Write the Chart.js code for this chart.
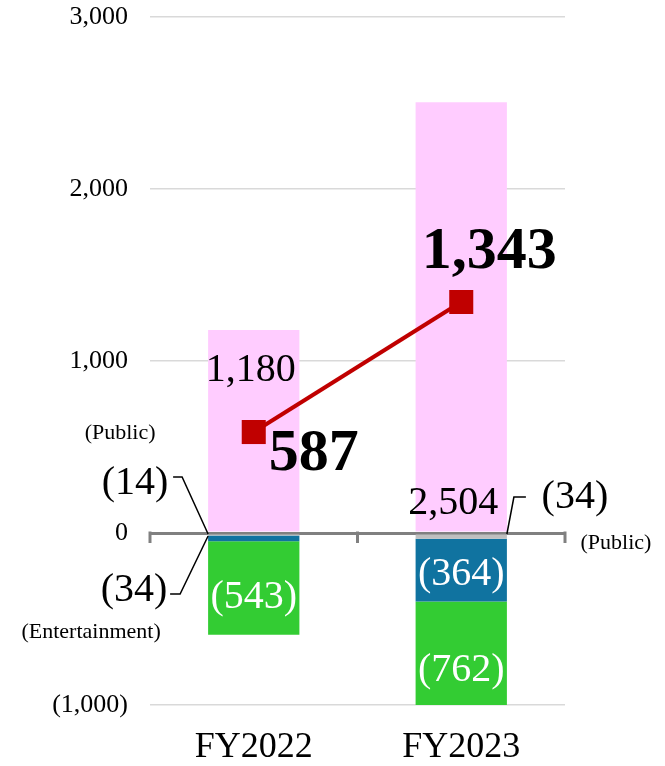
<!DOCTYPE html>
<html>
<head>
<meta charset="utf-8">
<script src="https://cdn.jsdelivr.net/npm/chart.js@4"></script>
<style>
  html, body { margin: 0; padding: 0; background: #fff; }
  #wrap { width: 665px; height: 766px; }
</style>
</head>
<body>
<div id="wrap"><canvas id="chart"></canvas></div>
<script>
// data
const categories = ['FY2022', 'FY2023'];
const positiveValues = [1180, 2504];
const publicValues = [-14, -34];
const entertainmentValues = [-34, -364];
const otherValues = [-543, -762];
const lineValues = [587, 1343];
const yMin = -1000;
const yMax = 3000;
const yStep = 1000;

const serif = "'Liberation Serif', 'Times New Roman', serif";

function fmt(v) {
    const s = Math.abs(v).toLocaleString('en-US');
    return v < 0 ? '(' + s + ')' : s;
}

function text(ctx, str, x, y, size, color, bold) {
    ctx.font = (bold ? 'bold ' : '') + size + 'px ' + serif;
    ctx.fillStyle = color;
    ctx.textAlign = 'center';
    ctx.textBaseline = 'middle';
    ctx.fillText(str, x, y);
}

function poly(ctx, pts) {
    ctx.beginPath();
    ctx.moveTo(pts[0][0], pts[0][1]);
    for (let i = 1; i < pts.length; i++) ctx.lineTo(pts[i][0], pts[i][1]);
    ctx.stroke();
}

// zero axis tick marks + labels
const labelPlugin = {
    id: 'labels',
    beforeDatasetsDraw(chart) {
        const {ctx, scales: {x, y}} = chart;
        const y0 = y.getPixelForValue(0);
        const edges = [x.left, (x.getPixelForValue(0) + x.getPixelForValue(1)) / 2, x.right];
        ctx.save();
        ctx.strokeStyle = '#808080';
        ctx.lineWidth = 3;
        edges.forEach(px => poly(ctx, [[px, y0 - 1.5], [px, y0 + 10]]));
        ctx.restore();
    },
    afterDatasetsDraw(chart) {
        const {ctx, scales: {x, y}} = chart;
        const y0 = y.getPixelForValue(0);
        const el = (d, i) => chart.getDatasetMeta(d).data[i];
        const mid = (d, i) => {
            const e = el(d, i);
            return (e.base + Math.min(e.y, y.bottom)) / 2;
        };
        ctx.save();

        // pink bar labels
        text(ctx, fmt(positiveValues[0]), el(0, 0).x - 3, el(0, 0).y + 40, 40, '#000');
        text(ctx, fmt(positiveValues[1]), el(0, 1).x - 8, y0 - 30, 40, '#000');

        // white labels in bars
        text(ctx, fmt(otherValues[0]), el(3, 0).x, mid(3, 0) + 10, 40, '#fff');
        text(ctx, fmt(entertainmentValues[1]), el(2, 1).x, mid(2, 1) + 4, 40, '#fff');
        text(ctx, fmt(otherValues[1]), el(3, 1).x, mid(3, 1) + 17, 40, '#fff');

        // line labels
        const p0 = chart.getDatasetMeta(4).data[0];
        const p1 = chart.getDatasetMeta(4).data[1];
        text(ctx, fmt(lineValues[0]), p0.x + 60, p0.y + 22, 60, '#000', true);
        text(ctx, fmt(lineValues[1]), p1.x + 28, p1.y - 50, 60, '#000', true);

        // leaders FY2022
        const b0 = el(1, 0);
        const left0 = b0.x - b0.width / 2;
        ctx.strokeStyle = '#000';
        ctx.lineWidth = 1.5;
        text(ctx, '(Public)', left0 - 88, y0 - 100, 22, '#000');
        text(ctx, fmt(publicValues[0]), left0 - 73, y0 - 50, 40, '#000');
        poly(ctx, [[left0 - 35, y0 - 56], [left0 - 26, y0 - 56], [left0, y0 + 1]]);
        text(ctx, fmt(entertainmentValues[0]), left0 - 74, y0 + 57, 40, '#000');
        poly(ctx, [[left0 - 38, y0 + 61], [left0 - 28, y0 + 61], [left0, y0 + 3]]);
        text(ctx, '(Entertainment)', left0 - 117, y0 + 99, 22, '#000');

        // leaders FY2023
        const b1 = el(1, 1);
        const right1 = b1.x + b1.width / 2;
        poly(ctx, [[right1, y0 + 1], [right1 + 7, y0 - 36], [right1 + 19, y0 - 36]]);
        text(ctx, fmt(publicValues[1]), right1 + 68, y0 - 36, 40, '#000');
        text(ctx, '(Public)', right1 + 109, y0 + 10, 22, '#000');

        ctx.restore();
    }
};

new Chart(document.getElementById('chart'), {
    type: 'bar',
    data: {
        labels: categories,
        datasets: [
            { label: 'Total', data: positiveValues, backgroundColor: '#ffccff', stack: 'bars', order: 1 },
            { label: 'Public', data: publicValues, backgroundColor: '#bfbfbf', stack: 'bars', order: 1 },
            { label: 'Entertainment', data: entertainmentValues, backgroundColor: '#1073a0', stack: 'bars', order: 1 },
            { label: 'Other', data: otherValues, backgroundColor: '#33cc33', stack: 'bars', order: 1 },
            {
                type: 'line',
                label: 'Profit',
                data: lineValues,
                stack: 'line',
                order: 0,
                borderColor: '#c00000',
                borderWidth: 4,
                backgroundColor: '#c00000',
                pointStyle: 'rect',
                pointRadius: 17,
                pointBorderWidth: 0,
                pointBackgroundColor: '#c00000'
            }
        ]
    },
    options: {
        responsive: true,
        maintainAspectRatio: false,
        animation: false,
        datasets: {
            bar: { barPercentage: 0.44, categoryPercentage: 1 }
        },
        layout: { autoPadding: false, padding: { top: 17, right: 100, bottom: 0, left: 0 } },
        plugins: {
            legend: { display: false },
            tooltip: { enabled: false }
        },
        scales: {
            x: {
                stacked: true,
                grid: { display: false, drawTicks: false },
                border: { display: false },
                ticks: {
                    padding: 25,
                    color: '#000',
                    font: { family: serif, size: 36, lineHeight: 1 }
                },
                afterFit: s => { s.height = 61; }
            },
            y: {
                stacked: true,
                min: yMin,
                max: yMax,
                border: { display: false },
                grid: {
                    drawTicks: false,
                    color: ctx => ctx.tick && ctx.tick.value === 0 ? '#808080' : '#d9d9d9',
                    lineWidth: ctx => ctx.tick && ctx.tick.value === 0 ? 3 : 1.5
                },
                ticks: {
                    stepSize: yStep,
                    padding: 22,
                    color: '#000',
                    font: { family: serif, size: 26 },
                    callback: v => fmt(v)
                },
                afterFit: s => { s.width = 150; s.paddingTop = 0; s.paddingBottom = 0; }
            }
        }
    },
    plugins: [labelPlugin]
});
</script>
</body>
</html>
